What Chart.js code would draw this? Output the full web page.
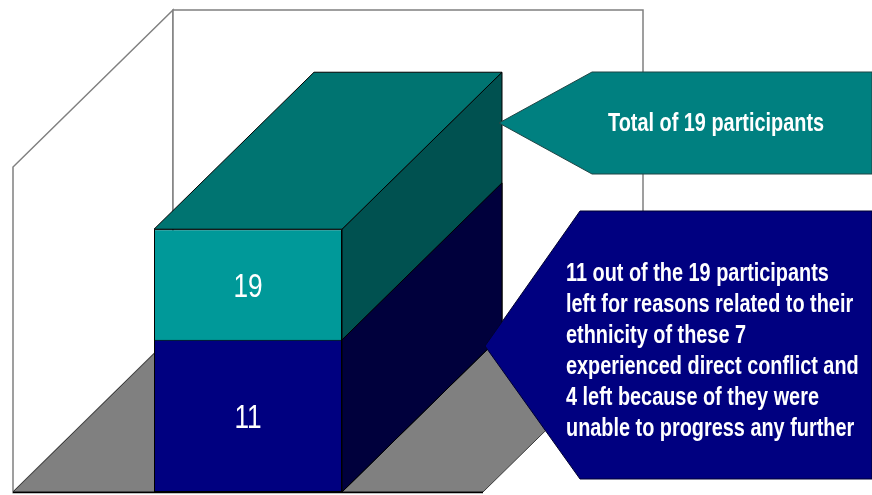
<!DOCTYPE html>
<html>
<head>
<meta charset="utf-8">
<title>Participants who left</title>
<script src="https://cdn.jsdelivr.net/npm/chart.js@4.4.1/dist/chart.umd.min.js"></script>
<style>
  html, body { margin: 0; padding: 0; background: #ffffff; }
  canvas { display: block; }
</style>
</head>
<body>
<canvas id="chart" width="872" height="495"></canvas>
<script>
// Chart data
const categories = ['Participants'];
const totalParticipants = [19];
const leftForEthnicity = [11];

// Callout texts
const totalCalloutLines = ['Total of 19 participants'];
const leftCalloutLines = [
  '11 out of the 19 participants',
  'left for reasons related to their',
  'ethnicity of these 7',
  'experienced direct conflict and',
  '4 left because of they were',
  'unable to progress any further'
];

// Depth of the 3D box (screen offset of the back plane)
const DEPTH = { dx: 160, dy: -157 };
const CONDENSE = 0.795;

const COLORS = {
  tealFront: '#009999', tealTop: '#007471', tealSide: '#005150',
  navyFront: '#000080', navySide: '#00003c',
  floor: '#808080', wallLine: '#808080',
  tealCallout: '#008080', navyCallout: '#000080'
};

function poly(ctx, pts, fill, stroke, lw) {
  ctx.beginPath();
  ctx.moveTo(pts[0][0], pts[0][1]);
  for (let i = 1; i < pts.length; i++) ctx.lineTo(pts[i][0], pts[i][1]);
  ctx.closePath();
  if (fill) { ctx.fillStyle = fill; ctx.fill(); }
  if (stroke) { ctx.strokeStyle = stroke; ctx.lineWidth = lw || 1; ctx.stroke(); }
}

function condensedText(ctx, text, x, y, align) {
  ctx.save();
  ctx.translate(x, y);
  ctx.scale(CONDENSE, 1);
  ctx.textAlign = align;
  ctx.fillText(text, 0, 0);
  ctx.restore();
}

const boxPlugin = {
  id: 'box3d',
  beforeDatasetsDraw(chart) {
    const { ctx, chartArea: a } = chart;
    const { dx, dy } = DEPTH;
    ctx.save();
    // walls
    poly(ctx, [[a.left, a.bottom], [a.left, a.top], [a.left + dx, a.top + dy], [a.left + dx, a.bottom + dy]], '#ffffff', COLORS.wallLine, 1.5);
    poly(ctx, [[a.left + dx, a.top + dy], [a.right + dx, a.top + dy], [a.right + dx, a.bottom + dy], [a.left + dx, a.bottom + dy]], '#ffffff', COLORS.wallLine, 1.5);
    // floor
    poly(ctx, [[a.left, a.bottom], [a.right, a.bottom], [a.right + dx, a.bottom + dy], [a.left + dx, a.bottom + dy]], COLORS.floor, '#3a3a3a', 1);
    ctx.beginPath();
    ctx.moveTo(a.left, a.bottom + 0.5);
    ctx.lineTo(a.right, a.bottom + 0.5);
    ctx.strokeStyle = '#000000';
    ctx.lineWidth = 1.5;
    ctx.stroke();

    // side and top faces of the bars, drawn back to front
    const metas = chart.getSortedVisibleDatasetMetas().slice().reverse();
    metas.forEach((meta, k) => {
      const ds = chart.data.datasets[meta.index];
      meta.data.forEach(bar => {
        const p = bar.getProps(['x', 'y', 'base', 'width'], true);
        const l = p.x - p.width / 2, r = p.x + p.width / 2;
        poly(ctx, [[r, p.y], [r + dx, p.y + dy], [r + dx, p.base + dy], [r, p.base]], ds.sideColor, '#000000', 1);
        if (k === 0) {
          poly(ctx, [[l, p.y], [l + dx, p.y + dy], [r + dx, p.y + dy], [r, p.y]], ds.topColor, '#000000', 1);
        }
      });
    });
    ctx.restore();
  },
  afterDatasetsDraw(chart) {
    const { ctx } = chart;
    ctx.save();
    ctx.fillStyle = '#ffffff';
    ctx.textBaseline = 'middle';
    ctx.font = '33px "Liberation Sans", Arial, sans-serif';
    // value labels centred in the visible part of each front face
    const metas = chart.getSortedVisibleDatasetMetas();
    metas.forEach(meta => {
      const ds = chart.data.datasets[meta.index];
      meta.data.forEach((bar, i) => {
        const p = bar.getProps(['x', 'y', 'base'], true);
        let lower = p.base;
        metas.forEach(m => {
          if (m === meta) return;
          const o = m.data[i].getProps(['y'], true);
          if (o.y > p.y && o.y < lower) lower = o.y;
        });
        condensedText(ctx, String(ds.data[i]), p.x, (p.y + lower) / 2 + 3, 'center');
      });
    });

    // callouts
    poly(ctx, [[499, 123], [592, 72], [872, 72], [872, 174], [592, 174]], COLORS.tealCallout, '#1f4545', 1);
    poly(ctx, [[485, 346], [580, 211], [872, 211], [872, 479], [580, 479]], COLORS.navyCallout, '#000030', 1);

    ctx.fillStyle = '#ffffff';
    ctx.textBaseline = 'alphabetic';
    ctx.font = 'bold 25px "Liberation Sans", Arial, sans-serif';
    totalCalloutLines.forEach((t, i) => condensedText(ctx, t, 608, 131 + i * 31, 'left'));
    leftCalloutLines.forEach((t, i) => condensedText(ctx, t, 566, 281 + i * 31, 'left'));
    ctx.restore();
  }
};

new Chart(document.getElementById('chart'), {
  type: 'bar',
  data: {
    labels: categories,
    datasets: [
      {
        label: 'Total participants',
        data: totalParticipants,
        backgroundColor: COLORS.tealFront,
        topColor: COLORS.tealTop,
        sideColor: COLORS.tealSide,
        borderColor: '#000000',
        borderWidth: 1,
        borderSkipped: false,
        grouped: false,
        order: 2
      },
      {
        label: 'Left for ethnicity-related reasons',
        data: leftForEthnicity,
        backgroundColor: COLORS.navyFront,
        sideColor: COLORS.navySide,
        borderColor: '#000000',
        borderWidth: 1,
        borderSkipped: false,
        grouped: false,
        order: 1
      }
    ]
  },
  options: {
    responsive: false,
    animation: false,
    events: [],
    layout: { padding: { left: 13, right: 389, top: 167, bottom: 3 } },
    datasets: { bar: { barPercentage: 0.4, categoryPercentage: 1.0 } },
    scales: {
      x: { display: false },
      y: { display: false, min: 0, max: 23.5 }
    },
    plugins: { legend: { display: false }, tooltip: { enabled: false } }
  },
  plugins: [boxPlugin]
});
</script>
</body>
</html>
